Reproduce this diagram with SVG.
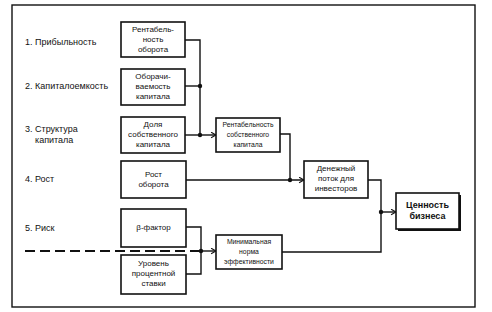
<svg xmlns="http://www.w3.org/2000/svg" width="492" height="312" viewBox="0 0 492 312">
<style>
.box{fill:#fff;stroke:#111;stroke-width:1.6}
.t{font-family:"Liberation Sans",Arial,sans-serif;font-size:8px;fill:#111;text-anchor:middle}
.s{font-size:6.8px}
.lbl{font-family:"Liberation Sans",Arial,sans-serif;font-size:9px;fill:#111}
.c{fill:none;stroke:#111;stroke-width:1.4}
.b{font-family:"Liberation Sans",Arial,sans-serif;font-size:9px;font-weight:bold;fill:#111;text-anchor:middle}
</style>
<defs>
<marker id="ar" viewBox="0 0 10 10" refX="9" refY="5" markerWidth="7" markerHeight="7" orient="auto" markerUnits="userSpaceOnUse">
<polyline points="2,1 9,5 2,9" fill="none" stroke="#111" stroke-width="1.6"/>
</marker>
</defs>
<rect x="0" y="0" width="492" height="312" fill="#fff"/>
<rect x="12" y="5" width="463" height="302" fill="none" stroke="#111" stroke-width="1.4"/>

<g id="labels">
<text class="lbl" x="25" y="45">1. Прибыльность</text>
<text class="lbl" x="25" y="89">2. Капиталоемкость</text>
<text class="lbl" x="25" y="132">3. Структура</text>
<text class="lbl" x="35" y="143">капитала</text>
<text class="lbl" x="25" y="182">4. Рост</text>
<text class="lbl" x="25" y="231">5. Риск</text>
</g>

<g id="connectors">
<polyline class="c" points="185,40 200,40 200,135"/>
<line class="c" x1="185" y1="86" x2="200" y2="86"/>
<line class="c" x1="185" y1="135" x2="216" y2="135" marker-end="url(#ar)"/>
<circle cx="200" cy="86" r="2.2" fill="#111"/>
<circle cx="200" cy="135" r="2.2" fill="#111"/>
<polyline class="c" points="280,134 290,134 290,180"/>
<line class="c" x1="186" y1="180" x2="304" y2="180" marker-end="url(#ar)"/>
<circle cx="290" cy="180" r="2.2" fill="#111"/>
<polyline class="c" points="368,180 381,180 381,252 282,252"/>
<line class="c" x1="381" y1="212" x2="396" y2="212" marker-end="url(#ar)"/>
<circle cx="381" cy="212" r="2.2" fill="#111"/>
<polyline class="c" points="186,227 201,227 201,274 186,274"/>
<line class="c" x1="201" y1="251" x2="216" y2="251" marker-end="url(#ar)"/>
<circle cx="201" cy="251" r="2.2" fill="#111"/>
<line x1="25" y1="251" x2="200" y2="251" stroke="#111" stroke-width="1.8" stroke-dasharray="10,5"/>
</g>

<g id="n1"><rect class="box" x="121" y="22" width="64" height="35"/>
<text class="t" x="153" y="32">Рентабель-</text><text class="t" x="153" y="42">ность</text><text class="t" x="153" y="52">оборота</text></g>
<g id="n2"><rect class="box" x="121" y="69" width="64" height="36"/>
<text class="t" x="153" y="79">Оборачи-</text><text class="t" x="153" y="89">ваемость</text><text class="t" x="153" y="99">капитала</text></g>
<g id="n3"><rect class="box" x="121" y="117" width="64" height="36"/>
<text class="t" x="153" y="127">Доля</text><text class="t" x="153" y="137">собственного</text><text class="t" x="153" y="147">капитала</text></g>
<g id="n4"><rect class="box" x="121" y="161" width="65" height="37"/>
<text class="t" x="153.5" y="177">Рост</text><text class="t" x="153.5" y="187">оборота</text></g>
<g id="n5"><rect class="box" x="121" y="209" width="65" height="38"/>
<text class="t" x="153.5" y="230">β-фактор</text></g>
<g id="n6"><rect class="box" x="121" y="255" width="65" height="39"/>
<text class="t" x="153.5" y="266">Уровень</text><text class="t" x="153.5" y="276">процентной</text><text class="t" x="153.5" y="286">ставки</text></g>
<g id="n7"><rect class="box" x="216" y="118" width="64" height="34"/>
<text class="t s" x="248" y="127">Рентабельность</text><text class="t s" x="248" y="137">собственного</text><text class="t s" x="248" y="147">капитала</text></g>
<g id="n8"><rect class="box" x="304" y="161" width="64" height="37"/>
<text class="t" x="336" y="171">Денежный</text><text class="t" x="336" y="181">поток для</text><text class="t" x="336" y="191">инвесторов</text></g>
<g id="n9"><rect x="398" y="195" width="63" height="36" fill="#111"/>
<rect class="box" x="396" y="193" width="63" height="36"/>
<text class="b" x="427.5" y="208">Ценность</text><text class="b" x="427.5" y="219">бизнеса</text></g>
<g id="n10"><rect class="box" x="216" y="235" width="66" height="34"/>
<text class="t s" x="249" y="244">Минимальная</text><text class="t s" x="249" y="254">норма</text><text class="t s" x="249" y="264">эффективности</text></g>
</svg>
